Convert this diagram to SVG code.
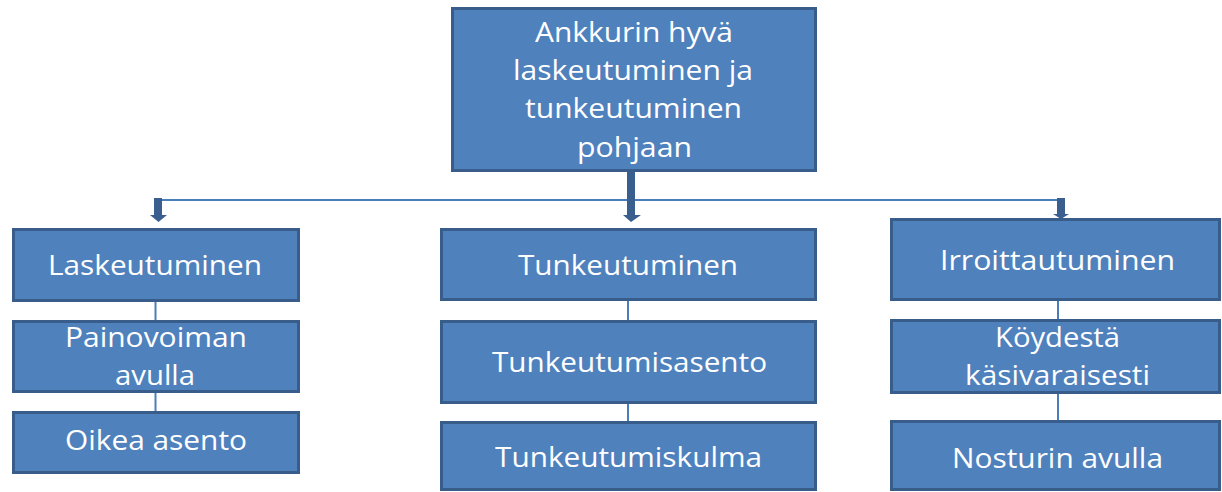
<svg xmlns="http://www.w3.org/2000/svg" width="1222" height="492" viewBox="0 0 1222 492">
<style>
.box{fill:#4F81BD;stroke:#385D8A;stroke-width:3}
.t{font-family:"Open Sans","Noto Sans",sans-serif;font-size:28px;fill:#FFFFFF;text-anchor:middle}
.ln{stroke:#4A7EBB;stroke-width:2;fill:none}
.ar{fill:#3A5F8E}
</style>
<rect width="1222" height="492" fill="#FFFFFF"/>
<g id="connectors">
<line class="ln" x1="160" y1="200" x2="1060" y2="200"/>
<polygon class="ar" points="154,198 162,198 162,215 167,215 158.5,222 150,215 154,215"/>
<polygon class="ar" points="627,172 635,172 635,215 641,215 631,222 623,215 627,215"/>
<polygon class="ar" points="1057,198 1065,198 1065,214 1069,214 1061,219 1053,214 1057,214"/>
<line class="ln" x1="155.5" y1="302" x2="155.5" y2="320"/>
<line class="ln" x1="155.5" y1="393" x2="155.5" y2="411"/>
<line class="ln" x1="628" y1="301" x2="628" y2="320"/>
<line class="ln" x1="628" y1="404" x2="628" y2="421"/>
<line class="ln" x1="1058" y1="301" x2="1058" y2="319"/>
<line class="ln" x1="1058" y1="394" x2="1058" y2="420"/>
</g>
<g id="root">
<rect class="box" x="452.5" y="8.5" width="363" height="162"/>
<text class="t" x="634" y="42" textLength="198" lengthAdjust="spacingAndGlyphs">Ankkurin hyvä</text>
<text class="t" x="633" y="80" textLength="240" lengthAdjust="spacingAndGlyphs">laskeutuminen ja</text>
<text class="t" x="633.5" y="118" textLength="217" lengthAdjust="spacingAndGlyphs">tunkeutuminen</text>
<text class="t" x="634.5" y="157" textLength="115" lengthAdjust="spacingAndGlyphs">pohjaan</text>
</g>
<g id="laskeutuminen">
<rect class="box" x="13.5" y="229.5" width="285" height="71"/>
<text class="t" x="155" y="275" textLength="214" lengthAdjust="spacingAndGlyphs">Laskeutuminen</text>
</g>
<g id="painovoiman">
<rect class="box" x="13.5" y="321.5" width="285" height="70"/>
<text class="t" x="156" y="347" textLength="182" lengthAdjust="spacingAndGlyphs">Painovoiman</text>
<text class="t" x="155" y="385" textLength="80" lengthAdjust="spacingAndGlyphs">avulla</text>
</g>
<g id="oikea-asento">
<rect class="box" x="13.5" y="412.5" width="285" height="60"/>
<text class="t" x="156" y="450" textLength="182" lengthAdjust="spacingAndGlyphs">Oikea asento</text>
</g>
<g id="tunkeutuminen">
<rect class="box" x="441.5" y="229.5" width="374" height="70"/>
<text class="t" x="628" y="275" textLength="220" lengthAdjust="spacingAndGlyphs">Tunkeutuminen</text>
</g>
<g id="tunkeutumisasento">
<rect class="box" x="441.5" y="321.5" width="374" height="81"/>
<text class="t" x="629.5" y="372" textLength="275" lengthAdjust="spacingAndGlyphs">Tunkeutumisasento</text>
</g>
<g id="tunkeutumiskulma">
<rect class="box" x="441.5" y="422.5" width="374" height="67"/>
<text class="t" x="628.5" y="467" textLength="267" lengthAdjust="spacingAndGlyphs">Tunkeutumiskulma</text>
</g>
<g id="irroittautuminen">
<rect class="box" x="891.5" y="219.5" width="328" height="80"/>
<text class="t" x="1057.5" y="270" textLength="235" lengthAdjust="spacingAndGlyphs">Irroittautuminen</text>
</g>
<g id="koydesta">
<rect class="box" x="891.5" y="320.5" width="328" height="72"/>
<text class="t" x="1057.5" y="347" textLength="125" lengthAdjust="spacingAndGlyphs">Köydestä</text>
<text class="t" x="1057.5" y="385" textLength="185" lengthAdjust="spacingAndGlyphs">käsivaraisesti</text>
</g>
<g id="nosturin">
<rect class="box" x="891.5" y="421.5" width="328" height="68"/>
<text class="t" x="1057.5" y="468" textLength="211" lengthAdjust="spacingAndGlyphs">Nosturin avulla</text>
</g>
</svg>
